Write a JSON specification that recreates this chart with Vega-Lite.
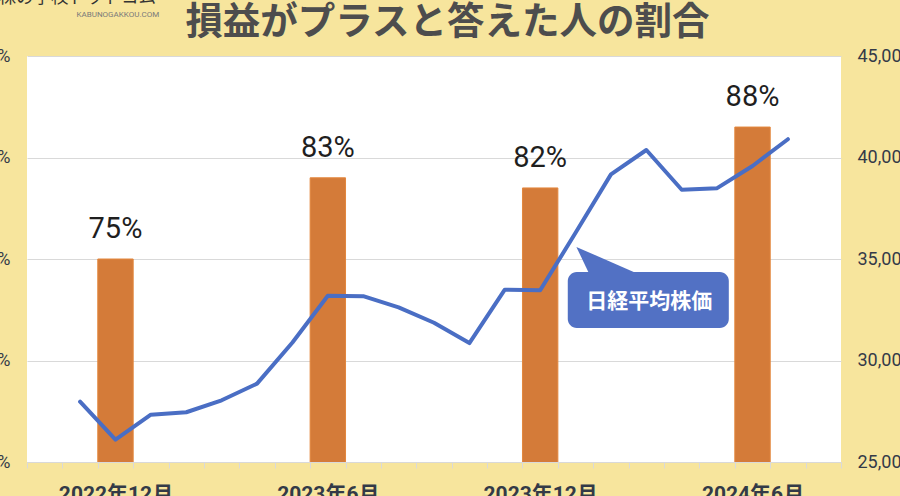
{
  "$schema": "https://vega.github.io/schema/vega-lite/v6.json",
  "autosize": {"type": "none"},
  "width": 814,
  "height": 406,
  "padding": {"left": 27, "top": 56, "right": 59, "bottom": 34},
  "background": "#F7E59D",
  "view": {"fill": "#FFFFFF", "stroke": null},
  "data": {
    "values": [
      {"month": "2022年10月"},
      {"month": "2022年11月", "nikkei": 27970},
      {"month": "2022年12月", "nikkei": 26100, "pct": 0.75},
      {"month": "2023年1月", "nikkei": 27330},
      {"month": "2023年2月", "nikkei": 27450},
      {"month": "2023年3月", "nikkei": 28040},
      {"month": "2023年4月", "nikkei": 28860},
      {"month": "2023年5月", "nikkei": 30890},
      {"month": "2023年6月", "nikkei": 33190, "pct": 0.83},
      {"month": "2023年7月", "nikkei": 33170},
      {"month": "2023年8月", "nikkei": 32620},
      {"month": "2023年9月", "nikkei": 31860},
      {"month": "2023年10月", "nikkei": 30860},
      {"month": "2023年11月", "nikkei": 33490},
      {"month": "2023年12月", "nikkei": 33460, "pct": 0.82},
      {"month": "2024年1月", "nikkei": 36290},
      {"month": "2024年2月", "nikkei": 39170},
      {"month": "2024年3月", "nikkei": 40370},
      {"month": "2024年4月", "nikkei": 38410},
      {"month": "2024年5月", "nikkei": 38490},
      {"month": "2024年6月", "nikkei": 39580, "pct": 0.88},
      {"month": "2024年7月", "nikkei": 40900},
      {"month": "2024年8月"}
    ]
  },
  "encoding": {
    "x": {
      "field": "month",
      "type": "ordinal",
      "scale": {
        "domain": ["2022年10月","2022年11月","2022年12月","2023年1月","2023年2月","2023年3月","2023年4月","2023年5月","2023年6月","2023年7月","2023年8月","2023年9月","2023年10月","2023年11月","2023年12月","2024年1月","2024年2月","2024年3月","2024年4月","2024年5月","2024年6月","2024年7月","2024年8月"],
        "paddingInner": 0,
        "paddingOuter": 0
      },
      "axis": {
        "title": "損益がプラスと答えた人の割合",
        "titleX": 420,
        "titleY": -429,
        "titleAlign": "center",
        "titleBaseline": "alphabetic",
        "titleAngle": 0,
        "titleFont": "Noto Sans CJK JP",
        "titleFontSize": 37.5,
        "titleFontWeight": "bold",
        "titleColor": "#4D4D4D",
        "labelAngle": 0,
        "labelOverlap": false,
        "labelExpr": "indexof(['2022年12月','2023年6月','2023年12月','2024年6月'], datum.value) >= 0 ? datum.value : ''",
        "tickBand": "extent",
        "tickSize": 6,
        "tickColor": "#D9D9D9",
        "domainColor": "#D9D9D9",
        "labelPadding": 15,
        "labelBaseline": "top",
        "labelFont": "Roboto, 'Noto Sans CJK JP'",
        "labelFontSize": 21,
        "labelFontWeight": "bold",
        "labelColor": "#333A47"
      }
    }
  },
  "layer": [
    {
      "mark": {"type": "bar", "fill": "#D47B39", "stroke": "#E3873D", "strokeWidth": 1, "clip": true},
      "transform": [{"filter": "isValid(datum.pct)"}],
      "encoding": {
        "y": {
          "field": "pct",
          "type": "quantitative",
          "scale": {"domain": [0.55, 0.95], "nice": false, "zero": false},
          "axis": {
            "orient": "left",
            "values": [0.55, 0.65, 0.75, 0.85, 0.95],
            "format": ".0%",
            "grid": true,
            "gridColor": "#D9D9D9",
            "gridWidth": 1,
            "domain": false,
            "ticks": false,
            "labelPadding": 17,
            "labelFont": "Roboto",
            "labelFontSize": 18,
            "labelColor": "#343A48",
            "title": "株の学校ドットコム",
            "titleAngle": 0,
            "titleAlign": "left",
            "titleBaseline": "alphabetic",
            "titleX": -29,
            "titleY": -54,
            "titleFont": "Noto Sans CJK JP",
            "titleFontSize": 17.5,
            "titleFontWeight": "normal",
            "titleColor": "#333333"
          }
        }
      }
    },
    {
      "mark": {"type": "text", "baseline": "alphabetic", "dy": -21, "font": "Roboto", "fontSize": 29, "color": "#1F1F1F"},
      "transform": [{"filter": "isValid(datum.pct)"}],
      "encoding": {
        "y": {"field": "pct", "type": "quantitative", "scale": {"domain": [0.55, 0.95], "nice": false, "zero": false}, "axis": null},
        "text": {"field": "pct", "type": "quantitative", "format": ".0%"}
      }
    },
    {
      "mark": {"type": "line", "color": "#4A6EC4", "strokeWidth": 4, "strokeJoin": "round", "strokeCap": "round"},
      "transform": [{"filter": "isValid(datum.nikkei)"}],
      "encoding": {
        "y": {
          "field": "nikkei",
          "type": "quantitative",
          "scale": {"domain": [25000, 45000], "nice": false, "zero": false},
          "axis": {
            "orient": "right",
            "values": [25000, 30000, 35000, 40000, 45000],
            "format": ",.0f",
            "grid": false,
            "domain": false,
            "ticks": false,
            "labelPadding": 16,
            "labelFont": "Roboto",
            "labelFontSize": 18,
            "labelColor": "#343A48",
            "title": "KABUNOGAKKOU.COM",
            "titleAngle": 0,
            "titleAlign": "left",
            "titleBaseline": "alphabetic",
            "titleX": -765,
            "titleY": -40,
            "titleFont": "Roboto",
            "titleFontSize": 8,
            "titleFontWeight": "normal",
            "titleColor": "#7A7A7A"
          }
        }
      }
    },
    {
      "data": {"values": [{"label": "日経平均株価"}]},
      "mark": {"type": "point", "shape": "M -0.97 -0.41 L -0.56 0.45 L 1 0.45 Z", "filled": true, "fill": "#5271C4", "opacity": 1, "strokeWidth": 0, "size": 4096},
      "encoding": {
        "x": {"datum": "2024年2月", "type": "ordinal", "bandPosition": 0.4},
        "y": {"datum": 34950, "type": "quantitative", "scale": {"domain": [25000, 45000], "nice": false, "zero": false}, "axis": null}
      }
    },
    {
      "data": {"values": [{"label": "日経平均株価"}]},
      "mark": {"type": "rect", "fill": "#5271C4", "cornerRadius": 9},
      "encoding": {
        "x": {"datum": "2024年1月", "type": "ordinal", "bandPosition": 0.28},
        "x2": {"datum": "2024年5月", "bandPosition": 0.83},
        "y": {"datum": 34360, "type": "quantitative", "scale": {"domain": [25000, 45000], "nice": false, "zero": false}, "axis": null},
        "y2": {"datum": 31600}
      }
    },
    {
      "data": {"values": [{"label": "日経平均株価"}]},
      "mark": {"type": "text", "font": "Noto Sans CJK JP", "fontSize": 21, "fontWeight": "bold", "color": "#FFFFFF", "baseline": "middle", "dx": 3},
      "encoding": {
        "x": {"datum": "2024年3月", "type": "ordinal"},
        "y": {"datum": 32900, "type": "quantitative", "scale": {"domain": [25000, 45000], "nice": false, "zero": false}, "axis": null},
        "text": {"field": "label"}
      }
    }
  ],
  "resolve": {"scale": {"y": "independent"}}
}
